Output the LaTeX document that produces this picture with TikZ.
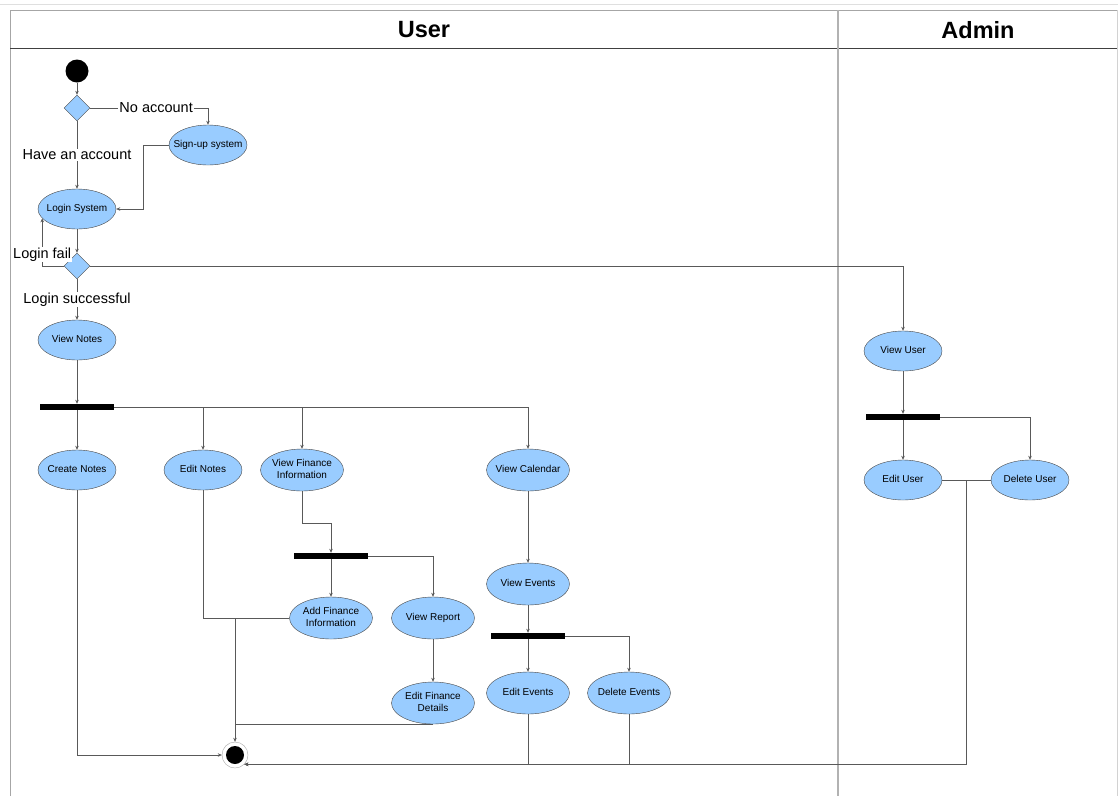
\documentclass[tikz,border=0pt]{standalone}
\usepackage{fontspec}
\setmainfont{Liberation Sans}
\usepackage{tikz}
\usetikzlibrary{arrows.meta,positioning,shapes.geometric}

\definecolor{actblue}{HTML}{99CCFF}
%% zero-width box so the ellipse keeps its own size
\newcommand{\acttext}[1]{\makebox[0pt]{\begin{tabular}{@{}c@{}}#1\end{tabular}}}

\begin{document}
\begin{tikzpicture}[
  x=1pt, y=-1pt,
  every node/.style={font=\fontsize{10}{12.3}\selectfont},
  act/.style={ellipse, draw=gray!55!black, fill=actblue, inner sep=0pt,
    minimum width=78pt, minimum height=40pt},
  wact/.style={act, minimum width=83pt, minimum height=42pt},
  dec/.style={diamond, draw=gray!55!black, fill=actblue, inner sep=0pt, minimum size=26pt},
  bar/.style={fill=black, inner sep=0pt, minimum width=74pt, minimum height=6pt},
  startnode/.style={circle, fill=black, inner sep=0pt, minimum size=23pt},
  endnode/.style={circle, draw=gray!70, fill=white, inner sep=0pt, minimum size=26pt,
    path picture={\fill[black] (path picture bounding box.center) circle[radius=9pt];}},
  lbl/.style={fill=white, inner sep=1pt, font=\fontsize{14.5}{17}\selectfont},
  lanehd/.style={font=\bfseries\fontsize{23.5}{26}\selectfont},
  arr/.style={-{Stealth[length=4pt, width=3.5pt]}, draw=gray!70!black, line width=0.6pt},
  ln/.style={draw=gray!70!black, line width=0.6pt},
]
\useasboundingbox (0,0) rectangle (1118,796);

%% ── Swimlanes ────────────────────────────────────────────────────────────
\draw[gray!25] (0,4) -- (1118,4);
\draw[gray!70, line width=1pt] (10,796) -- (10,10) -- (1117,10);
\draw[gray!35] (1117,10) -- (1117,796);
\draw[gray!50!black, line width=0.8pt] (10,48) -- (1117,48);
\draw[gray!60, line width=2pt] (838,10) -- (838,796);
\node[lanehd] (userhd) at (424,30) {User};
\node[lanehd] (adminhd) at (978,30) {Admin};

%% ── User lane ────────────────────────────────────────────────────────────
\node[startnode] (start) at (77,71) {};
\node[dec] (d1) at (77,108) {};
\node[act] (signup) at (208,145) {\acttext{Sign-up system}};
\node[act] (login) at (77,209) {\acttext{Login System}};
\node[dec] (d2) at (77,266) {};
\node[act] (notes) at (77,340) {\acttext{View Notes}};
\node[bar] (bar1) at (77,407) {};

\node[act] (create) at (77,470) {\acttext{Create Notes}};
\node[act] (editn) at (203,470) {\acttext{Edit Notes}};
\node[wact] (finance) at (302,470) {\acttext{View Finance\\Information}};
\node[wact] (calendar) at (528,470) {\acttext{View Calendar}};

\node[bar] (bar2) at (331,556) {};
\node[wact] (addfin) at (331,618) {\acttext{Add Finance\\Information}};
\node[wact] (report) at (433,618) {\acttext{View Report}};
\node[wact] (editfin) at (433,703) {\acttext{Edit Finance\\Details}};

\node[wact] (events) at (528,584) {\acttext{View Events}};
\node[bar] (bar3) at (528,636) {};
\node[wact] (editev) at (528,693) {\acttext{Edit Events}};
\node[wact] (delev) at (629,693) {\acttext{Delete Events}};

\node[endnode] (stop) at (235,755) {};

%% ── Admin lane ───────────────────────────────────────────────────────────
\node[act] (viewuser) at (903,351) {\acttext{View User}};
\node[bar] (bar4) at (903,417) {};
\node[act] (edituser) at (903,480) {\acttext{Edit User}};
\node[act] (deluser) at (1030,480) {\acttext{Delete User}};

%% ── Flows ────────────────────────────────────────────────────────────────
\draw[arr] (start) -- (d1);
\draw[arr] (d1.east) -| node[lbl, pos=0.28] (noacc) {No account} (signup.north);
\draw[arr] (d1) -- node[lbl] (hasacc) {Have an account} (login);
\draw[arr] (signup.west) -- ++(-26,0) |- (login.east);
\draw[arr] (login) -- (d2);
\draw[arr] (d2.west) -| node[lbl, pos=0.62] (fail) {Login fail} (login.195);
\draw[arr] (d2.east) -| (viewuser.north);
\draw[arr] (d2) -- node[lbl] (success) {Login successful} (notes);

\draw[arr] (notes) -- (bar1);
\draw[arr] (bar1) -- (create);
\foreach \t in {editn, finance, calendar}
  \draw[arr] (bar1.east) -| (\t.north);

\draw[arr] (finance.south) -- ++(0,32) -| (bar2.north);
\draw[arr] (bar2) -- (addfin);
\draw[arr] (bar2.east) -| (report.north);
\draw[arr] (report) -- (editfin);

\draw[arr] (calendar) -- (events);
\draw[arr] (events) -- (bar3);
\draw[arr] (bar3) -- (editev);
\draw[arr] (bar3.east) -| (delev.north);

\draw[arr] (viewuser) -- (bar4);
\draw[arr] (bar4) -- (edituser);
\draw[arr] (bar4.east) -| (deluser.north);

%% ── Joins into the final node ────────────────────────────────────────────
\coordinate (j1) at (stop |- addfin.west);
\draw[ln] (editn.south) |- (addfin.west);
\draw[ln] (editfin.south) -| (j1);
\draw[arr] (j1) -- (stop.north);
\draw[arr] (create.south) |- (stop.west);

\draw[ln] (edituser) -- coordinate[pos=0.5] (j2) (deluser);
\draw[arr] (j2) |- (stop.south east);
\foreach \t in {editev, delev}
  \draw[arr] (\t.south) |- (stop.south east);

\end{tikzpicture}
\end{document}
